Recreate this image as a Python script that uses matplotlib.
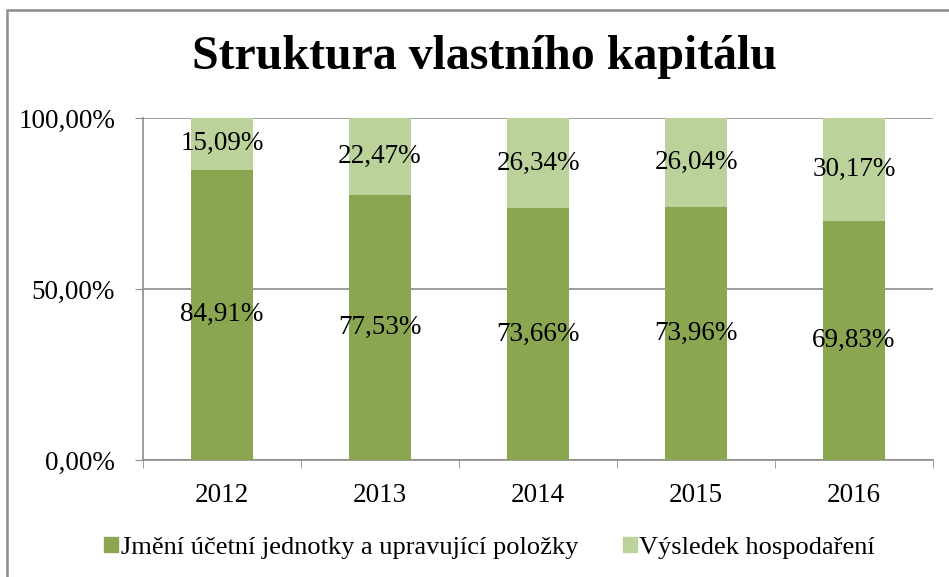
import matplotlib
matplotlib.use("Agg")
import matplotlib.pyplot as plt
from matplotlib.patches import Rectangle, Patch
import numpy as np

years = ["2012", "2013", "2014", "2015", "2016"]
jmeni = [84.91, 77.53, 73.66, 73.96, 69.83]
vysledek = [15.09, 22.47, 26.34, 26.04, 30.17]
series_names = ["Jmění účetní jednotky a upravující položky", "Výsledek hospodaření"]
title = "Struktura vlastního kapitálu"
yticks = [0, 50, 100]

dark = "#8aa650"
light = "#bcd29b"
FAM = ['Liberation Serif', 'DejaVu Serif']
plt.rcParams['font.family'] = FAM

fig = plt.figure(figsize=(9.49, 5.77), dpi=100)
ax = fig.add_axes([143/949, 1-460/577, 790/949, 342/577])

x = np.arange(len(years))
w = 0.39
ax.bar(x, jmeni, width=w, color=dark, zorder=3)
ax.bar(x, vysledek, width=w, bottom=jmeni, color=light, zorder=3)

def fmt(v):
    return f"{v:.2f}".replace(".", ",") + "%"

FS = 19.5
for xi, a, b in zip(x, jmeni, vysledek):
    ax.text(xi, a/2, fmt(a), ha='center', va='center', fontsize=FS, zorder=4)
    ax.text(xi, a + b/2, fmt(b), ha='center', va='center', fontsize=FS, zorder=4)

ax.set_xlim(-0.5, len(years)-0.5)
ax.set_ylim(0, 100)
ax.set_yticks(yticks)
ax.set_yticklabels([fmt(v) for v in yticks], fontsize=FS)
ax.set_xticks(x)
ax.set_xticklabels(years, fontsize=FS)
ax.set_xticks(np.arange(len(years)+1) - 0.5, minor=True)
ax.tick_params(axis='x', which='major', length=0, pad=16.5)
ax.tick_params(axis='x', which='minor', length=6, color='#8c8c8c', direction='out')
ax.tick_params(axis='y', length=6, color='#8c8c8c', direction='out', pad=14)

ax.yaxis.grid(True, color='#8c8c8c', linewidth=1.2, zorder=0)
for s in ['top', 'right']:
    ax.spines[s].set_visible(False)
for s in ['left', 'bottom']:
    ax.spines[s].set_color('#8c8c8c')
    ax.spines[s].set_linewidth(1.2)

fig.text(484.5/949, 1-57/577, title, ha='center', va='center', fontsize=34.5, fontweight='bold')

handles = [Patch(color=dark), Patch(color=light)]
fig.legend(handles, series_names, loc='center', bbox_to_anchor=(489.5/949, 1-548/577),
           ncol=2, frameon=False, prop={'family': FAM, 'size': 19},
           handlelength=0.53, handleheight=0.53, handletextpad=0.1, columnspacing=1.7)

fig.patches.append(Rectangle((7/949, -0.1), 1.2, 1.1 - 10/577, transform=fig.transFigure,
                             fill=False, edgecolor='#8c8c8c', linewidth=1.8))

fig.savefig("out.png", dpi=100)
